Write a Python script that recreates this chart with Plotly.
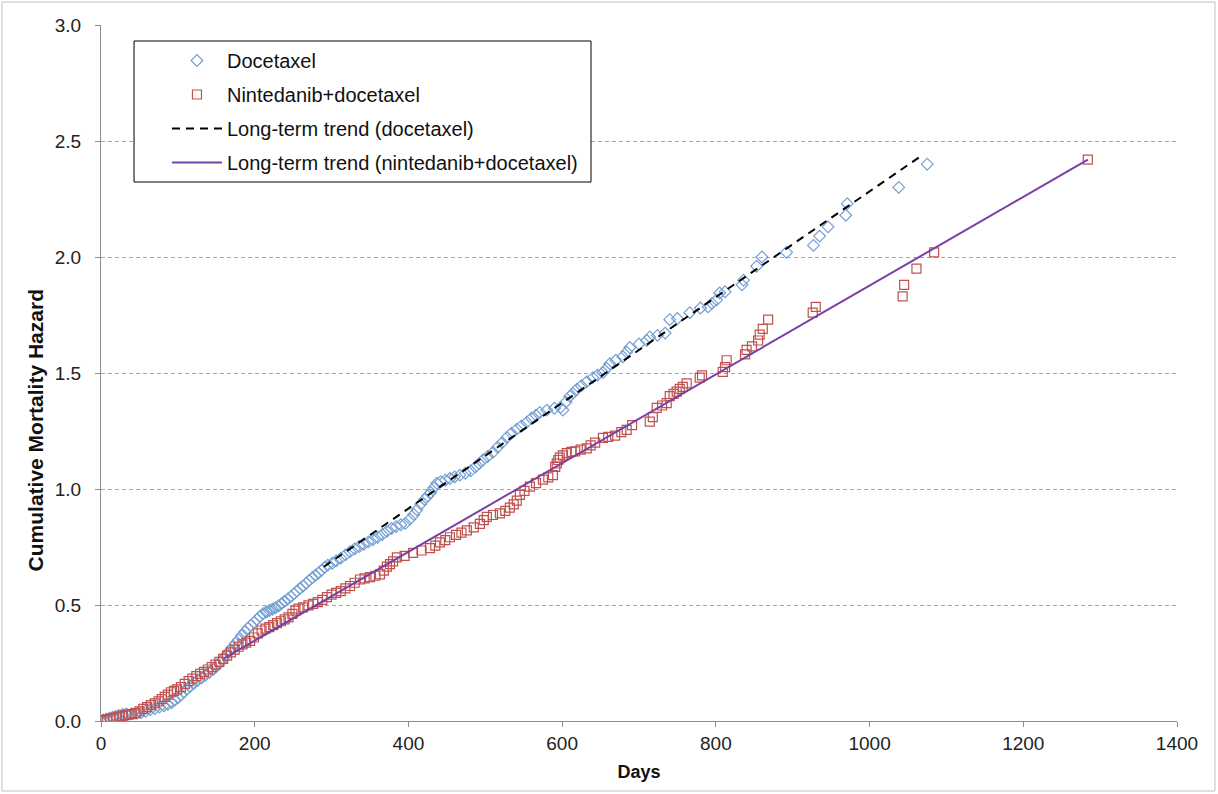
import plotly.graph_objects as go

# Docetaxel arm: cumulative mortality hazard by day
doce_days = [0, 3, 7, 11, 15, 19, 23, 28, 33, 40, 47, 52, 58, 64, 70, 76, 82, 87, 92, 96,
             100, 104, 108, 112, 116, 121, 126, 131, 136, 141, 146, 151, 155, 159, 163, 167,
             171, 175, 179, 183, 187, 191, 195, 199, 203, 207, 211, 215, 219, 223, 227, 231,
             235, 239, 243, 247, 251, 255, 259, 263, 267, 271, 275, 279, 283, 287, 291, 295,
             301, 306, 312, 318, 324, 330, 336, 342, 348, 354, 360, 366, 372, 378, 384, 390,
             396, 402, 407, 411, 416, 421, 425, 429, 433, 437, 442, 448, 454, 460, 467, 474,
             481, 487, 492, 497, 503, 510, 516, 522, 528, 534, 541, 547, 554, 560, 566, 571,
             580, 590, 598, 601, 605, 610, 614, 619, 625, 632, 640, 646, 653, 658, 662, 670,
             679, 684, 688, 700, 710, 714, 724, 734, 740, 750, 766, 780, 790, 795, 801, 805,
             812, 834, 836, 853, 860, 892, 927, 935, 946, 969, 971, 1038, 1075]
doce_hazard = [0.000, 0.004, 0.008, 0.012, 0.016, 0.020, 0.024, 0.028, 0.030, 0.032, 0.034,
               0.036, 0.042, 0.048, 0.054, 0.060, 0.066, 0.072, 0.080, 0.090, 0.100, 0.112,
               0.125, 0.138, 0.150, 0.163, 0.175, 0.186, 0.198, 0.210, 0.222, 0.238, 0.252,
               0.268, 0.285, 0.302, 0.318, 0.335, 0.350, 0.368, 0.385, 0.400, 0.412, 0.425,
               0.438, 0.452, 0.463, 0.470, 0.476, 0.482, 0.488, 0.496, 0.506, 0.516, 0.526,
               0.536, 0.548, 0.560, 0.572, 0.582, 0.594, 0.606, 0.618, 0.628, 0.638, 0.650,
               0.662, 0.672, 0.680, 0.690, 0.702, 0.716, 0.730, 0.742, 0.752, 0.762, 0.772,
               0.782, 0.792, 0.804, 0.818, 0.830, 0.838, 0.846, 0.852, 0.870, 0.890, 0.910,
               0.935, 0.955, 0.970, 0.985, 1.005, 1.025, 1.032, 1.038, 1.045, 1.052, 1.060,
               1.068, 1.078, 1.095, 1.110, 1.125, 1.140, 1.158, 1.180, 1.200, 1.222, 1.240,
               1.258, 1.272, 1.288, 1.305, 1.318, 1.330, 1.340, 1.348, 1.352, 1.340, 1.375,
               1.400, 1.412, 1.430, 1.445, 1.462, 1.480, 1.490, 1.502, 1.520, 1.540, 1.555,
               1.570, 1.590, 1.610, 1.625, 1.640, 1.655, 1.662, 1.672, 1.730, 1.735, 1.760,
               1.780, 1.785, 1.800, 1.815, 1.845, 1.850, 1.880, 1.900, 1.960, 2.000, 2.020,
               2.050, 2.090, 2.130, 2.180, 2.230, 2.300, 2.400]

# Nintedanib + docetaxel arm
nint_days = [0, 4, 8, 12, 16, 20, 24, 28, 32, 36, 40, 45, 50, 55, 60, 65, 70, 75, 79, 83,
             87, 91, 95, 99, 104, 109, 114, 119, 124, 129, 134, 139, 144, 149, 154, 159, 164,
             169, 174, 179, 184, 189, 194, 199, 204, 209, 214, 219, 224, 229, 234, 239, 244,
             249, 253, 257, 263, 270, 276, 282, 288, 294, 300, 306, 312, 318, 324, 330, 337,
             343, 350, 357, 363, 368, 372, 376, 380, 385, 395, 406, 417, 428, 435, 441, 448,
             454, 462, 469, 476, 485, 493, 498, 502, 510, 519, 526, 532, 537, 541, 545, 551,
             558, 566, 575, 582, 588, 591, 593, 595, 597, 601, 606, 612, 617, 624, 632, 637,
             643, 653, 660, 669, 677, 684, 691, 714, 718, 723, 730, 736, 740, 745, 749, 753,
             757, 762, 779, 782, 809, 812, 814, 838, 840, 847, 855, 857, 861, 868, 926, 930,
             1043, 1045, 1061, 1084, 1284]
nint_hazard = [0.000, 0.004, 0.007, 0.010, 0.013, 0.016, 0.019, 0.022, 0.025, 0.028, 0.030,
               0.034, 0.042, 0.052, 0.060, 0.068, 0.076, 0.085, 0.094, 0.104, 0.114, 0.124,
               0.130, 0.136, 0.146, 0.160, 0.172, 0.183, 0.193, 0.203, 0.212, 0.222, 0.232,
               0.243, 0.255, 0.268, 0.282, 0.296, 0.308, 0.320, 0.330, 0.338, 0.345, 0.360,
               0.378, 0.390, 0.398, 0.405, 0.413, 0.422, 0.430, 0.438, 0.447, 0.462, 0.476,
               0.484, 0.490, 0.498, 0.505, 0.512, 0.522, 0.534, 0.545, 0.552, 0.560, 0.572,
               0.582, 0.596, 0.610, 0.615, 0.620, 0.626, 0.632, 0.648, 0.665, 0.676, 0.688,
               0.705, 0.712, 0.725, 0.735, 0.745, 0.756, 0.770, 0.780, 0.792, 0.802, 0.812,
               0.822, 0.835, 0.850, 0.866, 0.880, 0.888, 0.895, 0.906, 0.920, 0.934, 0.950,
               0.975, 0.992, 1.010, 1.025, 1.040, 1.050, 1.060, 1.095, 1.110, 1.125, 1.135,
               1.145, 1.155, 1.160, 1.162, 1.170, 1.175, 1.188, 1.200, 1.220, 1.225, 1.230,
               1.245, 1.255, 1.275, 1.290, 1.310, 1.350, 1.360, 1.370, 1.400, 1.410, 1.420,
               1.432, 1.440, 1.455, 1.480, 1.490, 1.505, 1.525, 1.555, 1.580, 1.600, 1.615,
               1.640, 1.665, 1.690, 1.730, 1.760, 1.785, 1.830, 1.880, 1.950, 2.020, 2.420]

# Long-term linear trends (end points)
doce_trend_days = [290, 1069]
doce_trend_hazard = [0.665, 2.44]
nint_trend_days = [160, 1284]
nint_trend_hazard = [0.27, 2.42]

y_ticks = [0.0, 0.5, 1.0, 1.5, 2.0, 2.5, 3.0]
x_ticks = [0, 200, 400, 600, 800, 1000, 1200, 1400]

FONT = "Liberation Sans, Arial, sans-serif"

fig = go.Figure()
fig.add_trace(go.Scatter(
    x=doce_days, y=doce_hazard, mode="markers", name="Docetaxel", legendgroup="a",
    marker=dict(symbol="diamond-open", size=9, color="#749fd4", line=dict(width=1.2)),
))
fig.add_trace(go.Scatter(
    x=nint_days, y=nint_hazard, mode="markers", name="Nintedanib+docetaxel", legendgroup="b",
    marker=dict(symbol="square-open", size=9, color="#c0504d", line=dict(width=1.2)),
))
fig.add_trace(go.Scatter(
    x=doce_trend_days, y=doce_trend_hazard, mode="lines", name="Long-term trend (docetaxel)",
    legendgroup="c", line=dict(color="black", width=2, dash="8px,6px"),
))
fig.add_trace(go.Scatter(
    x=nint_trend_days, y=nint_trend_hazard, mode="lines",
    name="Long-term trend (nintedanib+docetaxel)", legendgroup="d",
    line=dict(color="#7a3fa6", width=2),
))

# thin frame around the whole chart
fig.add_shape(type="rect", xref="paper", yref="paper",
              x0=-0.0920, x1=1.0353, y0=-0.1006, y1=1.0330,
              line=dict(color="#bfbfbf", width=1), layer="below")

# legend frame (the legend entries sit indented inside it)
fig.add_shape(type="rect", xref="paper", yref="paper",
              x0=0.0307, x1=0.4554, y0=0.7744, y1=0.977,
              line=dict(color="black", width=1), fillcolor="white", layer="above")

# vertical axis title, set a little below the plot centre
fig.add_annotation(
    text="<b>Cumulative Mortality Hazard</b>", textangle=-90,
    xref="paper", yref="paper", x=-0.061, y=0.418, xanchor="center", yanchor="middle",
    showarrow=False, font=dict(family=FONT, size=21, color="#111111"),
)

fig.update_layout(
    width=1218, height=794,
    margin=dict(l=101, r=41, t=25, b=73),
    paper_bgcolor="white", plot_bgcolor="white",
    font=dict(family=FONT, size=19, color="#222222"),
    showlegend=True,
    legend=dict(
        x=0.0613, y=0.977, xanchor="left", yanchor="top",
        borderwidth=0, bgcolor="rgba(0,0,0,0)",
        font=dict(family=FONT, size=20, color="#111111"),
        tracegroupgap=5, traceorder="grouped", itemwidth=50,
    ),
    xaxis=dict(
        range=[0, 1400], tickvals=x_ticks, ticktext=[str(v) for v in x_ticks],
        showgrid=False, zeroline=False, showline=True, linecolor="#8c8c8c", linewidth=1,
        ticks="outside", ticklen=5, tickcolor="#8c8c8c",
        title=dict(text="<b>Days</b>", font=dict(size=18, color="#111111"), standoff=12),
    ),
    yaxis=dict(
        range=[0, 3], tickvals=y_ticks, ticktext=[f"{v:.1f}" for v in y_ticks],
        showgrid=True, gridcolor="#a6a6a6", griddash="4px,3px", gridwidth=1,
        zeroline=False, showline=True, linecolor="#8c8c8c", linewidth=1,
        ticks="outside", ticklen=5, tickcolor="#8c8c8c", ticklabelstandoff=10,
    ),
)

fig.write_html("out.html")
